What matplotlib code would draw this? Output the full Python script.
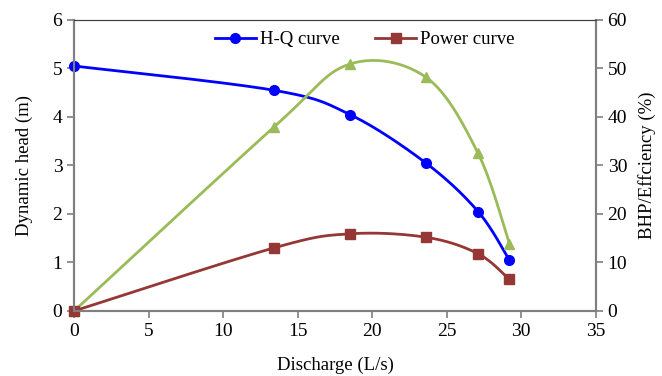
import matplotlib
matplotlib.use('Agg')
import matplotlib.pyplot as plt
import numpy as np

plt.rcParams['font.family'] = ['Liberation Serif', 'DejaVu Serif']
plt.rcParams['font.size'] = 14

discharge = [0, 13.4, 18.5, 23.6, 27.1, 29.2]
head = [5.05, 4.55, 4.05, 3.05, 2.05, 1.05]
power = [0, 13.0, 15.9, 15.2, 11.8, 6.5]
efficiency = [0, 37.9, 50.9, 48.2, 32.5, 13.9]


def smooth(x, y, n=30):
    # Excel-style smoothed line: cubic Bezier through the points
    p = np.column_stack([x, y]).astype(float)
    pts = np.vstack([p[0], p, p[-1]])
    out = []
    t = np.linspace(0, 1, n)[:, None]
    for i in range(1, len(pts) - 2):
        p0, p3 = pts[i], pts[i + 1]
        c1 = p0 + (pts[i + 1] - pts[i - 1]) / 6
        c2 = p3 - (pts[i + 2] - pts[i]) / 6
        seg = ((1 - t) ** 3) * p0 + 3 * ((1 - t) ** 2) * t * c1 + 3 * (1 - t) * t ** 2 * c2 + t ** 3 * p3
        out.append(seg)
    s = np.vstack(out)
    return s[:, 0], s[:, 1]


blue = '#0000FF'
red = '#953735'
green = '#9BBB59'

fig = plt.figure(figsize=(6.62, 3.76), dpi=100)
ax = fig.add_axes([0.112, 0.173, 0.788, 0.774])
ax2 = ax.twinx()

sx, sy = smooth(discharge, head)
ax.plot(sx, sy, color=blue, lw=2, zorder=3)
ax.plot(discharge, head, 'o', color=blue, ms=7, zorder=4, clip_on=False)
h1, = ax.plot([], [], '-o', color=blue, lw=2, ms=7)

sx, sy = smooth(discharge, efficiency)
ax2.plot(sx, sy, color=green, lw=2)
ax2.plot(discharge, efficiency, '^', color=green, ms=7, clip_on=False)

sx, sy = smooth(discharge, power)
ax2.plot(sx, sy, color=red, lw=2)
ax2.plot(discharge, power, 's', color=red, ms=7, clip_on=False)
h2, = ax.plot([], [], '-s', color=red, lw=2, ms=7)

ax.set_xlim(0, 35)
ax.set_ylim(0, 6)
ax2.set_ylim(0, 60)
ax.set_xticks(range(0, 36, 5))
ax.set_yticks(range(0, 7))
ax2.set_yticks(range(0, 61, 10))

for a in (ax, ax2):
    for side in ('left', 'right', 'bottom'):
        a.spines[side].set_color('#7f7f7f')
        a.spines[side].set_linewidth(1.5)
    a.spines['top'].set_color('#404040')
    a.tick_params(direction='out', length=5, width=1.2, color='#7f7f7f', labelsize=14)

ax.set_xlabel('Discharge (L/s)', fontsize=13.5, labelpad=12)
ax.set_ylabel('Dynamic head (m)', fontsize=13.5, labelpad=14)
ax2.set_ylabel('BHP/Effciency (%)', fontsize=13.5, labelpad=8)

ax2.legend([h1, h2], ['H-Q curve', 'Power curve'], loc='upper center',
           bbox_to_anchor=(0.557, 1.02), ncol=2, frameon=False, fontsize=13.5,
           handlelength=2.2, handletextpad=0.2, columnspacing=1.9)

fig.savefig('out.png', dpi=100)
